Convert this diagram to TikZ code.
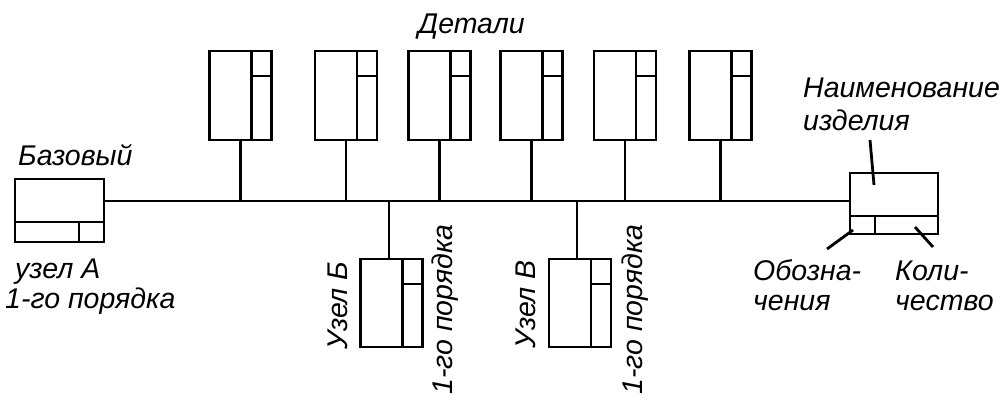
\documentclass[tikz,border=0pt]{standalone}
\usepackage{fontspec}
\setmainfont{Liberation Sans}
\begin{document}
\begin{tikzpicture}[x=1pt,y=-1pt,
  ln/.style={line width=2.8pt},
  boxn/.style={draw,line width=2.8pt,inner sep=0pt,outer sep=0pt},
  lbl/.style={inner sep=0pt,font=\fontsize{28.5}{31}\selectfont\itshape},
  lblr/.style={lbl,rotate=90,anchor=base west}]
\useasboundingbox (0,0) rectangle (1008,400);
% base assembly A
\node[boxn,minimum width=89pt,minimum height=63pt] (A) at (59.5,210.5) {};
\draw[ln] ([yshift=20pt]A.south west) -- ([yshift=20pt]A.south east);
\draw[ln] ([xshift=-25pt,yshift=20pt]A.south east) -- ([xshift=-25pt]A.south east);
% product box
\node[boxn,minimum width=88pt,minimum height=61pt] (R) at (894,203.5) {};
\draw[ln] ([yshift=18pt]R.south west) -- ([yshift=18pt]R.south east);
\draw[ln] ([xshift=25pt,yshift=18pt]R.south west) -- ([xshift=25pt]R.south west);
% bus
\coordinate (busL) at (104,201);
\coordinate (busR) at (850,201);
\draw[ln] (busL) -- (busR);
% details
\foreach \n/\x in {1/240.5,2/346,3/439.5,4/531.5,5/625,6/720.5}{
  \node[boxn,minimum width=62pt,minimum height=89pt] (d\n) at (\x,95.5) {};
  \draw[ln] ([xshift=-20pt]d\n.north east) -- ([xshift=-20pt]d\n.south east);
  \draw[ln] ([xshift=-20pt,yshift=-25pt]d\n.north east) -- ([yshift=-25pt]d\n.north east);
  \draw[ln] (d\n.south) -- (d\n.south |- busL);
}
% sub-assemblies
\foreach \n/\x in {B/391.5,V/580}{
  \node[boxn,minimum width=62pt,minimum height=88pt] (s\n) at (\x,303) {};
  \draw[ln] ([xshift=-20pt]s\n.north east) -- ([xshift=-20pt]s\n.south east);
  \draw[ln] ([xshift=-20pt,yshift=-25pt]s\n.north east) -- ([yshift=-25pt]s\n.north east);
}
\coordinate (jB) at (389,201);
\coordinate (jV) at (577,201);
\draw[ln] (jB) -- (jB |- sB.north);
\draw[ln] (jV) -- (jV |- sV.north);
% labels
\node[lbl,anchor=base west] (tDet) at (418,33) {Детали};
\node[lbl,anchor=base west] (tBaz) at (18,165) {Базовый};
\node[lbl,anchor=base west] (tUzA) at (15,278) {узел А};
\node[lbl,anchor=base west] (tPorA) at (5,308) {1-го порядка};
\node[lbl,anchor=base west] (tNaim) at (803,97) {Наименование};
\node[lbl,anchor=base west] (tIzd) at (803,130) {изделия};
\node[lbl,anchor=base west] (tOb1) at (753,280) {Обозна-};
\node[lbl,anchor=base west] (tOb2) at (753,310) {чения};
\node[lbl,anchor=base west] (tKol1) at (895,280) {Коли-};
\node[lbl,anchor=base west] (tKol2) at (895,310) {чество};
\node[lblr] (tUzB) at (347,350) {Узел Б};
\node[lblr] (tPorB) at (452,395) {1-го порядка};
\node[lblr] (tUzV) at (535,349) {Узел В};
\node[lblr] (tPorV) at (642,395) {1-го порядка};
% pointers
\coordinate (pN1) at (870,140); \coordinate (pN2) at (874,185);
\coordinate (pO1) at (827,249); \coordinate (pO2) at (853,230);
\coordinate (pK1) at (933,247); \coordinate (pK2) at (915,227);
\draw[ln] (pN1) -- (pN2);
\draw[ln] (pO1) -- (pO2);
\draw[ln] (pK1) -- (pK2);
\end{tikzpicture}
\end{document}
